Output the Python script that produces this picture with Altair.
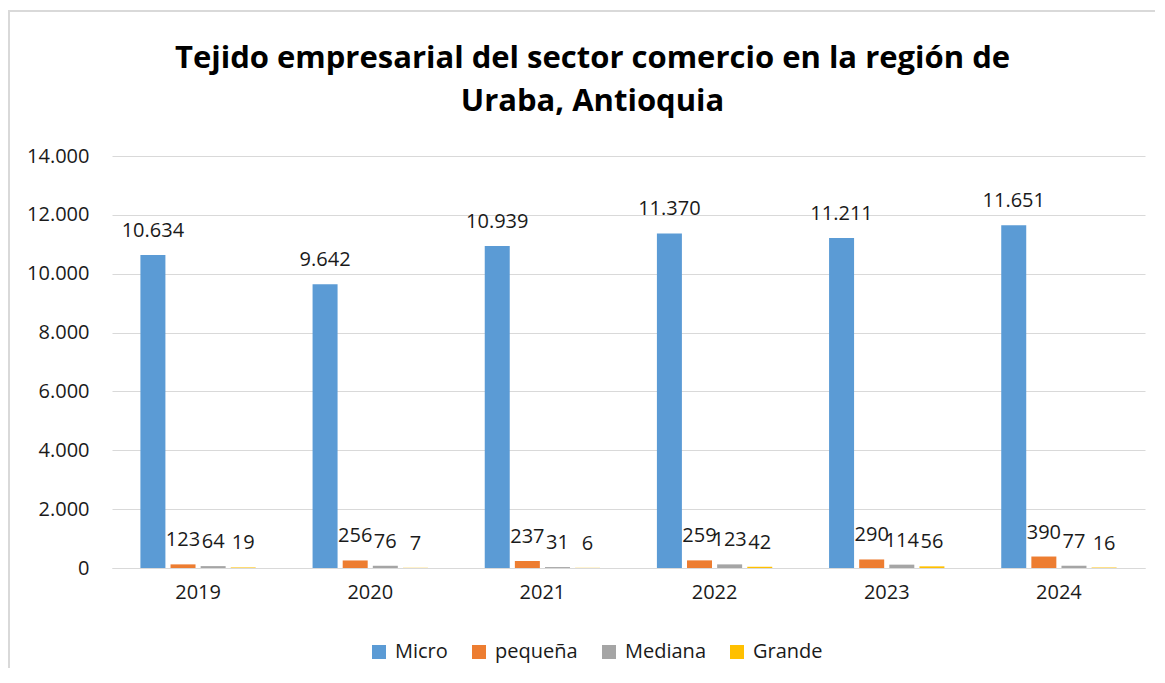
import altair as alt
import pandas as pd

years = ["2019", "2020", "2021", "2022", "2023", "2024"]
series = ["Micro", "pequeña", "Mediana", "Grande"]
micro = [10634, 9642, 10939, 11370, 11211, 11651]
pequena = [123, 256, 237, 259, 290, 390]
mediana = [64, 76, 31, 123, 114, 77]
grande = [19, 7, 6, 42, 56, 16]
colors = ["#5B9BD5", "#ED7D31", "#A5A5A5", "#FFC000"]
title_lines = ["Tejido empresarial del sector comercio en la región de", "Uraba, Antioquia"]

rows = []
for s, vals in zip(series, [micro, pequena, mediana, grande]):
    for y, v in zip(years, vals):
        rows.append({"year": y, "serie": s, "value": v,
                     "label": f"{v:,}".replace(",", ".")})
df = pd.DataFrame(rows)

FONT = "Open Sans"
TFONT = "Open Sans"
TXT = "#1a1a1a"

xenc = alt.X("year:N", sort=years, title=None,
             scale=alt.Scale(paddingInner=0.33, paddingOuter=0.165),
             axis=alt.Axis(labelAngle=0, labelFontSize=20, labelColor=TXT,
                           labelPadding=14, ticks=False, domainColor="#d9d9d9",
                           domainWidth=1.2, labelFont=FONT))
xoff = alt.XOffset("serie:N", sort=series,
                   scale=alt.Scale(paddingInner=0.17, paddingOuter=0))

base = alt.Chart(df)

bars = base.mark_bar().encode(
    x=xenc,
    xOffset=xoff,
    y=alt.Y("value:Q", title=None,
            scale=alt.Scale(domain=[0, 14000], nice=False),
            axis=alt.Axis(values=list(range(0, 14001, 2000)), labelFontSize=20,
                          labelColor=TXT, labelPadding=23, ticks=False,
                          domain=False, gridColor="#d9d9d9", gridWidth=1.2,
                          labelFont=FONT,
                          labelExpr="replace(format(datum.value, ','), ',', '.')")),
    color=alt.Color("serie:N", sort=series,
                    scale=alt.Scale(domain=series, range=colors),
                    legend=alt.Legend(title=None, orient="none", legendX=257,
                                      legendY=486, direction="horizontal",
                                      symbolType="square", symbolSize=196,
                                      symbolStrokeWidth=0, labelFontSize=20,
                                      labelFont=FONT, labelColor=TXT,
                                      labelOffset=6, columnPadding=21,
                                      padding=0)),
)

labels = base.mark_text(fontSize=20, font=FONT, color=TXT,
                        baseline="middle", dy=-24).encode(
    x=alt.X("year:N", sort=years),
    xOffset=xoff,
    y=alt.Y("value:Q"),
    text="label:N",
)

frame = alt.Chart(pd.DataFrame({"a": [0]})).mark_rect(
    fill=None, stroke="#d9d9d9", strokeWidth=2).encode(
    x=alt.value(-103), x2=alt.value(1200), y=alt.value(-145), y2=alt.value(700))

chart = alt.layer(frame, bars, labels).properties(
    width=1033, height=412,
    autosize=alt.AutoSizeParams(type="none"),
    padding={"left": 104, "top": 148, "right": 10, "bottom": 100},
    title=alt.Title(title_lines, fontSize=31, fontWeight="bold", font=TFONT,
                    color="#000000", anchor="middle", frame="group", dx=-36,
                    offset=0, dy=108, lineHeight=43),
).configure_view(stroke=None)

chart.save("out.html", embed_options={"renderer": "svg", "actions": False})
